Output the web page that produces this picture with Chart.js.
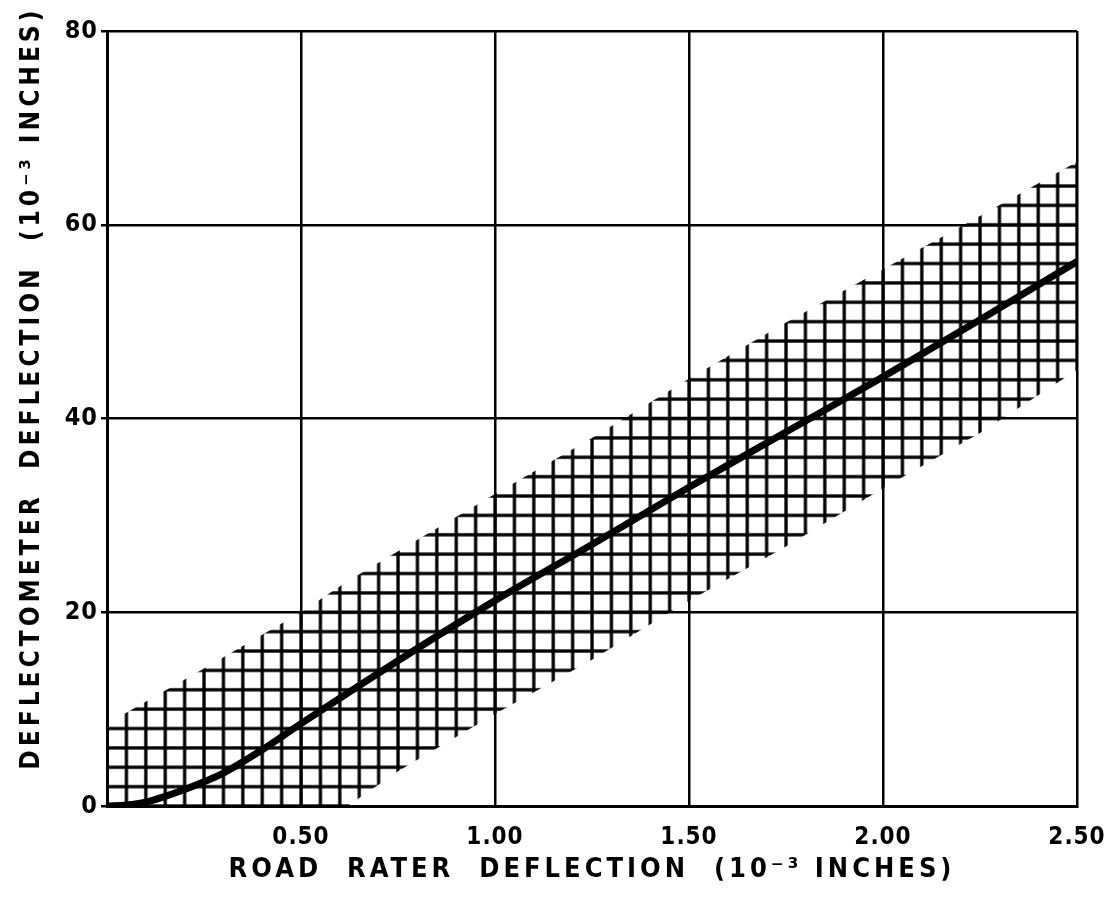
<!DOCTYPE html>
<html>
<head>
<meta charset="utf-8">
<script src="https://cdn.jsdelivr.net/npm/chart.js@4.4.1/dist/chart.umd.min.js"></script>
<style>
  html, body { margin: 0; padding: 0; background: #fff; }
  canvas { display: block; }
</style>
</head>
<body>
<canvas id="chart" width="1117" height="899"></canvas>
<script>
// Fitted curve (road rater vs deflectometer)
const curveX = [0, 0.05, 0.1, 0.15, 0.2, 0.25, 0.3, 0.4, 0.5, 0.75, 1.0, 1.25, 1.5, 1.75, 2.0, 2.25, 2.5];
const curveY = [0, 0.1, 0.4, 1.0, 1.7, 2.5, 3.4, 5.8, 8.5, 15.0, 21.2, 27.0, 32.9, 38.6, 44.3, 50.2, 56.2];

// Cross-hatched scatter band edges
const bandX = [0, 0.25, 0.5, 0.62, 0.75, 1.0, 1.25, 1.5, 1.75, 2.0, 2.25, 2.5];
const bandUpper = [8.5, 14.2, 20.0, 23.2, 26.3, 32.2, 38.0, 44.1, 49.9, 55.4, 60.9, 66.5];
const bandLower = [0, 0, 0, 0, 3.6, 9.5, 15.1, 21.2, 26.8, 32.8, 38.5, 45.0];

// Axis ticks
const xTicks = [0, 0.5, 1.0, 1.5, 2.0, 2.5];
const yTicks = [0, 20, 40, 60, 80];

// hatch spacing in data units
const HATCH_DX = 0.05;
const HATCH_DY = 2;

const toPoints = (xs, ys) => xs.map((x, i) => ({ x: x, y: ys[i] }));

// hatch tile: lines on the tile edges, scaled to the data grid later
const TILE = 20;
const tile = document.createElement('canvas');
tile.width = TILE;
tile.height = TILE;
const tctx = tile.getContext('2d');
tctx.fillStyle = '#000';
tctx.fillRect(0, 0, TILE, 1.7);
tctx.fillRect(0, TILE - 1.7, TILE, 1.7);
tctx.fillRect(0, 0, 1.7, TILE);
tctx.fillRect(TILE - 1.7, 0, 1.7, TILE);
const hatch = tctx.createPattern(tile, 'repeat');

const hatchAlign = {
    id: 'hatchAlign',
    beforeDraw(chart) {
        const xs = chart.scales.x;
        const ys = chart.scales.y;
        const x0 = xs.getPixelForValue(0);
        const y0 = ys.getPixelForValue(0);
        const dx = xs.getPixelForValue(HATCH_DX) - x0;
        const dy = y0 - ys.getPixelForValue(HATCH_DY);
        hatch.setTransform(new DOMMatrix().translate(x0, y0).scale(dx / TILE, dy / TILE));
        // axis titles are drawn with the grid layer, before the datasets
        chart.ctx.letterSpacing = '4px';
    },
    afterDatasetsDraw(chart) {
        // tick labels come after the datasets (ticks.z = 1)
        chart.ctx.letterSpacing = '1px';
    },
    afterDraw(chart) {
        chart.ctx.letterSpacing = '0px';
    }
};

Chart.defaults.font.family = "'DejaVu Sans Condensed', 'DejaVu Sans', sans-serif";
Chart.defaults.font.weight = 'bold';
Chart.defaults.color = '#000';

new Chart(document.getElementById('chart'), {
    type: 'line',
    data: {
        datasets: [
            {
                data: toPoints(curveX, curveY),
                borderColor: '#000',
                borderWidth: 7,
                borderCapStyle: 'round',
                cubicInterpolationMode: 'monotone',
                pointRadius: 0,
                fill: false
            },
            {
                data: toPoints(bandX, bandUpper),
                borderWidth: 0,
                borderColor: 'rgba(0,0,0,0)',
                backgroundColor: hatch,
                pointRadius: 0,
                fill: '+1'
            },
            {
                data: toPoints(bandX, bandLower),
                borderWidth: 0,
                borderColor: 'rgba(0,0,0,0)',
                pointRadius: 0,
                fill: false
            }
        ]
    },
    options: {
        responsive: false,
        animation: false,
        layout: { padding: { top: 31, right: 40, left: 0, bottom: 0 } },
        plugins: {
            legend: { display: false },
            tooltip: { enabled: false }
        },
        scales: {
            x: {
                type: 'linear',
                min: 0,
                max: 2.5,
                afterFit: s => {
                    s.height = 93;
                    s.paddingLeft = 0;
                    s.paddingRight = 0;
                },
                afterBuildTicks: s => { s.ticks = xTicks.map(v => ({ value: v })); },
                ticks: {
                    z: 1,
                    padding: 17,
                    font: { size: 24 },
                    callback: v => v === 0 ? '' : v.toFixed(2)
                },
                grid: { color: '#000', lineWidth: 2.5, drawTicks: false },
                border: { color: '#000', width: 3 },
                title: {
                    display: true,
                    text: 'ROAD  RATER  DEFLECTION  (10\u207B\u00B3 INCHES)',
                    font: { size: 27 },
                    padding: { top: 0, bottom: 13 }
                }
            },
            y: {
                min: 0,
                max: 80,
                afterFit: s => { s.width = 107; },
                afterBuildTicks: s => { s.ticks = yTicks.map(v => ({ value: v })); },
                ticks: { z: 1, padding: 3, font: { size: 25 } },
                grid: { color: '#000', lineWidth: 2.5, tickLength: 6 },
                border: { color: '#000', width: 3 },
                title: {
                    display: true,
                    text: '     DEFLECTOMETER  DEFLECTION  (10\u207B\u00B3 INCHES)',
                    font: { size: 26 },
                    padding: { top: 17, bottom: 0 }
                }
            }
        }
    },
    plugins: [hatchAlign]
});
</script>
</body>
</html>
